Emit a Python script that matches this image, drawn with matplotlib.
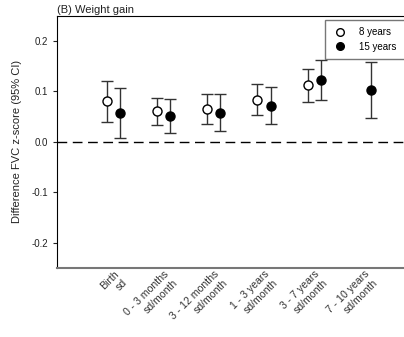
import numpy as np
import matplotlib
matplotlib.use("Agg")
import matplotlib.pyplot as plt
from matplotlib.lines import Line2D
from matplotlib.transforms import ScaledTranslation, blended_transform_factory

categories = ["Birth\nsd", "0 - 3 months\nsd/month", "3 - 12 months\nsd/month",
              "1 - 3 years\nsd/month", "3 - 7 years\nsd/month", "7 - 10 years\nsd/month"]
est_8 = [0.081, 0.061, 0.065, 0.084, 0.113, np.nan]
lo_8 = [0.040, 0.034, 0.035, 0.053, 0.079, np.nan]
hi_8 = [0.121, 0.087, 0.094, 0.114, 0.145, np.nan]
est_15 = [0.057, 0.051, 0.057, 0.072, 0.123, 0.102]
lo_15 = [0.007, 0.018, 0.021, 0.035, 0.083, 0.047]
hi_15 = [0.107, 0.085, 0.094, 0.108, 0.163, 0.158]
series_labels = ["8 years", "15 years"]

plt.rcParams['font.family'] = ['Liberation Sans', 'DejaVu Sans']

fig = plt.figure(figsize=(4.04, 3.37), dpi=100)
ax = fig.add_axes([0.141, 0.205, 0.9, 0.748])

x = np.arange(1, len(categories) + 1)
off = 0.13
e8 = np.array(est_8); e15 = np.array(est_15)
err8 = [e8 - np.array(lo_8), np.array(hi_8) - e8]
err15 = [e15 - np.array(lo_15), np.array(hi_15) - e15]

ax.axhline(0, color='black', lw=1.0, ls=(0, (7, 4)), zorder=1)
ax.errorbar(x - off, e8, yerr=err8, fmt='o', mfc='white', mec='black', ms=6.5,
            mew=1.0, ecolor='#333333', elinewidth=1.0, capsize=4, capthick=1.0,
            zorder=3)
ax.errorbar(x + off, e15, yerr=err15, fmt='o', mfc='black', mec='black', ms=6.5,
            mew=1.0, ecolor='#333333', elinewidth=1.0, capsize=4, capthick=1.0,
            zorder=3)

ax.set_xlim(-0.125, 7.12)
ax.set_ylim(-0.25, 0.25)
ax.set_yticks([-0.2, -0.1, 0.0, 0.1, 0.2])
ax.set_yticklabels(["-0.2", "-0.1", "0.0", "0.1", "0.2"])
ax.set_xticks(x)
ax.set_xticklabels([])
ax.tick_params(axis='x', length=0)
trans = blended_transform_factory(ax.transData, ax.transAxes) + \
    ScaledTranslation(0 / 100, -1 / 100, fig.dpi_scale_trans)
for xi, lab in zip(x, categories):
    ax.text(xi, 0, lab, transform=trans, rotation=45, ha='right', va='top',
            rotation_mode='anchor', fontsize=7.6, color='#333333', clip_on=False,
            linespacing=1.3)
ax.tick_params(axis='y', labelsize=7, length=3, width=0.8, colors='#222222')
for s in ['left', 'top']:
    ax.spines[s].set_linewidth(0.8)
ax.spines['bottom'].set_linewidth(1.5)
ax.spines['bottom'].set_color('#777777')
ax.spines['right'].set_visible(False)

ax.set_ylabel("Difference FVC z-score (95% CI)", fontsize=8, color='#222222', labelpad=7)
ax.set_title("(B) Weight gain", fontsize=8, loc='left', pad=2, color='#222222')

handles = [Line2D([], [], ls='none', marker='o', mfc='white', mec='black', ms=5.5, mew=1.0),
           Line2D([], [], ls='none', marker='o', mfc='black', mec='black', ms=5.5, mew=1.0)]
leg = ax.legend(handles, series_labels, loc='upper left',
                bbox_to_anchor=(0.737, 0.0, 0.35, 0.985), mode='expand',
                fontsize=7, frameon=True, fancybox=False, edgecolor='#555555',
                handletextpad=1.3, handlelength=1.5, borderpad=0.75, labelspacing=0.5,
                borderaxespad=0)
leg.get_frame().set_linewidth(1.0)

fig.savefig("out.png", dpi=100)
